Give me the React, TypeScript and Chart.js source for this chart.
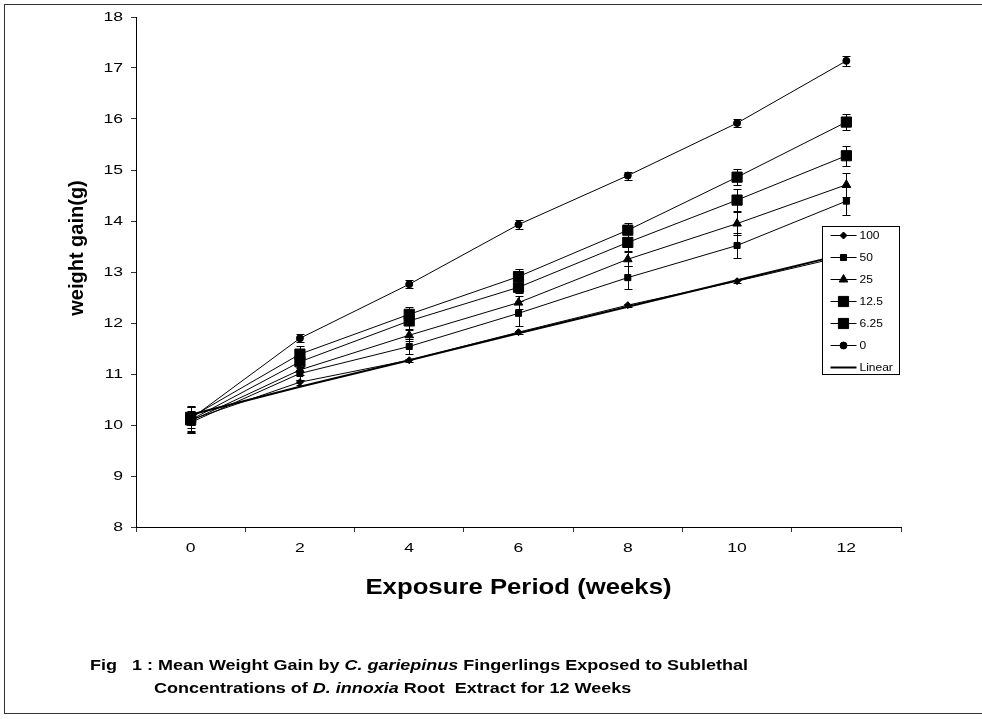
import React, { useEffect, useRef } from 'react';
import { Chart, registerables } from 'chart.js';
import { drawPoint } from 'chart.js/helpers';

Chart.register(...registerables);

// ---- data ----
const weeks = ['0', '2', '4', '6', '8', '10', '12'];
const seriesLabels = ['100', '50', '25', '12.5', '6.25', '0'];

const conc100 = [10.1, 10.84, 11.27, 11.82, 12.35, 12.82, 13.32];
const conc50 = [10.05, 11.01, 11.54, 12.19, 12.89, 13.52, 14.39];
const conc25 = [10.08, 11.08, 11.76, 12.4, 13.25, 13.95, 14.71];
const conc12_5 = [10.1, 11.24, 12.04, 12.7, 13.58, 14.41, 15.28];
const conc6_25 = [10.15, 11.39, 12.17, 12.91, 13.82, 14.86, 15.94];
const conc0 = [10.12, 11.7, 12.76, 13.93, 14.89, 15.92, 17.14];
const linearTrend = [10.2, 10.75, 11.27, 11.8, 12.32, 12.84, 13.36];

const err100 = [0.1, 0.05, 0.03, 0.03, 0.03, 0.03, 0.05];
const err50 = [0.2, 0.12, 0.15, 0.25, 0.23, 0.25, 0.27];
const err25 = [0.2, 0.1, 0.12, 0.12, 0.14, 0.23, 0.23];
const err12_5 = [0.25, 0.12, 0.18, 0.12, 0.16, 0.21, 0.2];
const err6_25 = [0.2, 0.15, 0.15, 0.15, 0.15, 0.15, 0.15];
const err0 = [0.25, 0.08, 0.08, 0.08, 0.08, 0.08, 0.1];

const yMin = 8;
const yMax = 18;
const yStep = 1;

const seriesValues = [conc100, conc50, conc25, conc12_5, conc6_25, conc0];
const seriesErrors = [err100, err50, err25, err12_5, err6_25, err0];

// ---- styles ----
const markerStyles = [
  { pointStyle: 'rectRot', radius: 3.5 },
  { pointStyle: 'rect', radius: 4.3 },
  { pointStyle: 'triangle', radius: 5 },
  { pointStyle: 'rect', radius: 7.2 },
  { pointStyle: 'rect', radius: 7.2 },
  { pointStyle: 'circle', radius: 3.5 },
];

const FONT = '"Liberation Sans", Arial, sans-serif';
const TICK_STRETCH = 1.35;

function patchFillText(ctx: any) {
  if (ctx.__patched) return;
  ctx.__patched = true;
  ctx.__sx = TICK_STRETCH;
  const orig = ctx.fillText.bind(ctx);
  ctx.fillText = (text: string, x: number, y: number, maxWidth?: number) => {
    const sx = ctx.__sx || 1;
    if (sx === 1) {
      if (maxWidth === undefined) orig(text, x, y);
      else orig(text, x, y, maxWidth);
      return;
    }
    ctx.save();
    ctx.translate(x, y);
    ctx.scale(sx, 1);
    orig(text, 0, 0);
    ctx.restore();
  };
}

const errorBarPlugin = {
  id: 'errorBars',
  beforeDatasetsDraw(chart: any) {
    const ctx = chart.ctx;
    const ys = chart.scales.y;
    ctx.save();
    ctx.strokeStyle = '#000';
    ctx.lineWidth = 1;
    seriesErrors.forEach((errs, di) => {
      const meta = chart.getDatasetMeta(di);
      meta.data.forEach((pt: any, i: number) => {
        const v = seriesValues[di][i];
        const e = errs[i];
        const x = Math.round(pt.x) + 0.5;
        const yt = Math.round(ys.getPixelForValue(v + e)) + 0.5;
        const yb = Math.round(ys.getPixelForValue(v - e)) + 0.5;
        ctx.beginPath();
        ctx.moveTo(x, yt);
        ctx.lineTo(x, yb);
        ctx.moveTo(x - 4, yt);
        ctx.lineTo(x + 4, yt);
        ctx.moveTo(x - 4, yb);
        ctx.lineTo(x + 4, yb);
        ctx.stroke();
      });
    });
    ctx.restore();
  },
};

const legendPlugin = {
  id: 'boxLegend',
  afterDatasetsDraw(chart: any) {
    const ctx = chart.ctx;
    const area = chart.chartArea;
    const w = 77;
    const h = 148;
    const left = Math.round(area.right - 2 - w) + 0.5;
    const top = Math.round(area.top + 209) + 0.5;
    ctx.save();
    ctx.fillStyle = '#fff';
    ctx.fillRect(left, top, w, h);
    ctx.strokeStyle = '#000';
    ctx.lineWidth = 1;
    ctx.strokeRect(left, top, w, h);
    const items = chart.data.datasets;
    ctx.font = `10px ${FONT}`;
    ctx.textAlign = 'left';
    ctx.textBaseline = 'middle';
    items.forEach((ds: any, i: number) => {
      const cy = Math.round(top + 8 + i * 22) + 0.5;
      ctx.strokeStyle = '#000';
      ctx.lineWidth = ds.borderWidth;
      ctx.beginPath();
      ctx.moveTo(left + 8, cy);
      ctx.lineTo(left + 34, cy);
      ctx.stroke();
      if (ds.pointRadius > 0) {
        ctx.fillStyle = '#000';
        ctx.lineWidth = 1;
        drawPoint(ctx, { pointStyle: ds.pointStyle, radius: ds.pointRadius, rotation: 0, borderWidth: 1 } as any, left + 21, cy);
      }
      ctx.fillStyle = '#000';
      ctx.__sx = 1.2;
      ctx.fillText(ds.label, left + 37, cy + 0.5);
      ctx.__sx = TICK_STRETCH;
    });
    ctx.restore();
  },
};

const titlePlugin = {
  id: 'axisTitles',
  afterDraw(chart: any) {
    const ctx = chart.ctx;
    const area = chart.chartArea;
    ctx.save();
    ctx.fillStyle = '#000';
    ctx.textAlign = 'center';
    ctx.textBaseline = 'middle';
    // x title
    ctx.font = `bold 22px ${FONT}`;
    ctx.__sx = 1.17;
    ctx.fillText('Exposure Period (weeks)', (area.left + area.right) / 2, area.bottom + 61);
    // y title
    ctx.__sx = 1;
    ctx.font = `bold 20px ${FONT}`;
    ctx.translate(area.left - 59, area.top + 231);
    ctx.rotate(-Math.PI / 2);
    ctx.fillText('weight gain(g)', 0, 0);
    ctx.restore();
    ctx.__sx = TICK_STRETCH;
  },
};

export default function App() {
  const canvasRef = useRef<HTMLCanvasElement | null>(null);

  useEffect(() => {
    const canvas = canvasRef.current;
    if (!canvas) return;
    const ctx = canvas.getContext('2d') as any;
    patchFillText(ctx);

    const datasets: any[] = seriesLabels.map((label, i) => ({
      label,
      data: seriesValues[i],
      borderColor: '#000',
      backgroundColor: '#000',
      borderWidth: 1,
      pointStyle: markerStyles[i].pointStyle,
      pointRadius: markerStyles[i].radius,
      pointHoverRadius: markerStyles[i].radius,
      pointBackgroundColor: '#000',
      pointBorderColor: '#000',
      pointBorderWidth: 1,
      tension: 0,
      fill: false,
    }));
    datasets.push({
      label: 'Linear',
      data: linearTrend,
      borderColor: '#000',
      backgroundColor: '#000',
      borderWidth: 2,
      pointRadius: 0,
      pointHoverRadius: 0,
      tension: 0,
      fill: false,
    });

    const chart = new Chart(ctx, {
      type: 'line',
      data: { labels: weeks, datasets },
      options: {
        animation: false,
        responsive: false,
        events: [],
        layout: { padding: { top: 17, right: 81, bottom: 152, left: 0 } },
        plugins: {
          legend: { display: false },
          title: { display: false },
          tooltip: { enabled: false },
        },
        scales: {
          x: {
            type: 'category',
            offset: true,
            grid: {
              offset: true,
              drawOnChartArea: false,
              drawTicks: true,
              tickLength: 5,
              color: '#333',
            },
            border: { display: true, color: '#000', width: 1 },
            ticks: {
              color: '#000',
              font: { family: FONT, size: 13 },
              padding: 9,
              maxRotation: 0,
              autoSkip: false,
            },
            afterFit: (s: any) => {
              s.height = 40;
            },
          },
          y: {
            min: yMin,
            max: yMax,
            grid: {
              drawOnChartArea: false,
              drawTicks: true,
              tickLength: 5,
              color: '#333',
            },
            border: { display: true, color: '#000', width: 1 },
            ticks: {
              stepSize: yStep,
              color: '#000',
              font: { family: FONT, size: 13 },
              padding: 8,
            },
            afterFit: (s: any) => {
              s.width = 136;
            },
          },
        },
      },
      plugins: [errorBarPlugin, legendPlugin, titlePlugin],
    });

    return () => {
      chart.destroy();
    };
  }, []);

  const capStyle: React.CSSProperties = {
    position: 'absolute',
    fontFamily: FONT,
    fontWeight: 'bold',
    fontSize: '15.5px',
    lineHeight: 'normal',
    whiteSpace: 'pre',
    color: '#000',
    transform: 'scaleX(1.16)',
    transformOrigin: 'left top',
  };

  return (
    <div
      style={{
        position: 'fixed',
        left: 0,
        top: 0,
        width: 982,
        height: 719,
        overflow: 'hidden',
        background: '#fff',
      }}
    >
      <div
        style={{
          position: 'absolute',
          left: 4,
          top: 4,
          width: 1100,
          height: 710,
          border: '1.5px solid #333',
          boxSizing: 'border-box',
        }}
      />
      <canvas
        ref={canvasRef}
        width={982}
        height={719}
        style={{ position: 'absolute', left: 0, top: 0, width: 982, height: 719, display: 'block' }}
      />
      <div style={{ ...capStyle, left: 90, top: 656 }}>
        {'Fig   1 : Mean Weight Gain by '}
        <i>C. gariepinus</i>
        {' Fingerlings Exposed to Sublethal'}
      </div>
      <div style={{ ...capStyle, left: 154, top: 679 }}>
        {'Concentrations of '}
        <i>D. innoxia</i>
        {' Root  Extract for 12 Weeks'}
      </div>
    </div>
  );
}
